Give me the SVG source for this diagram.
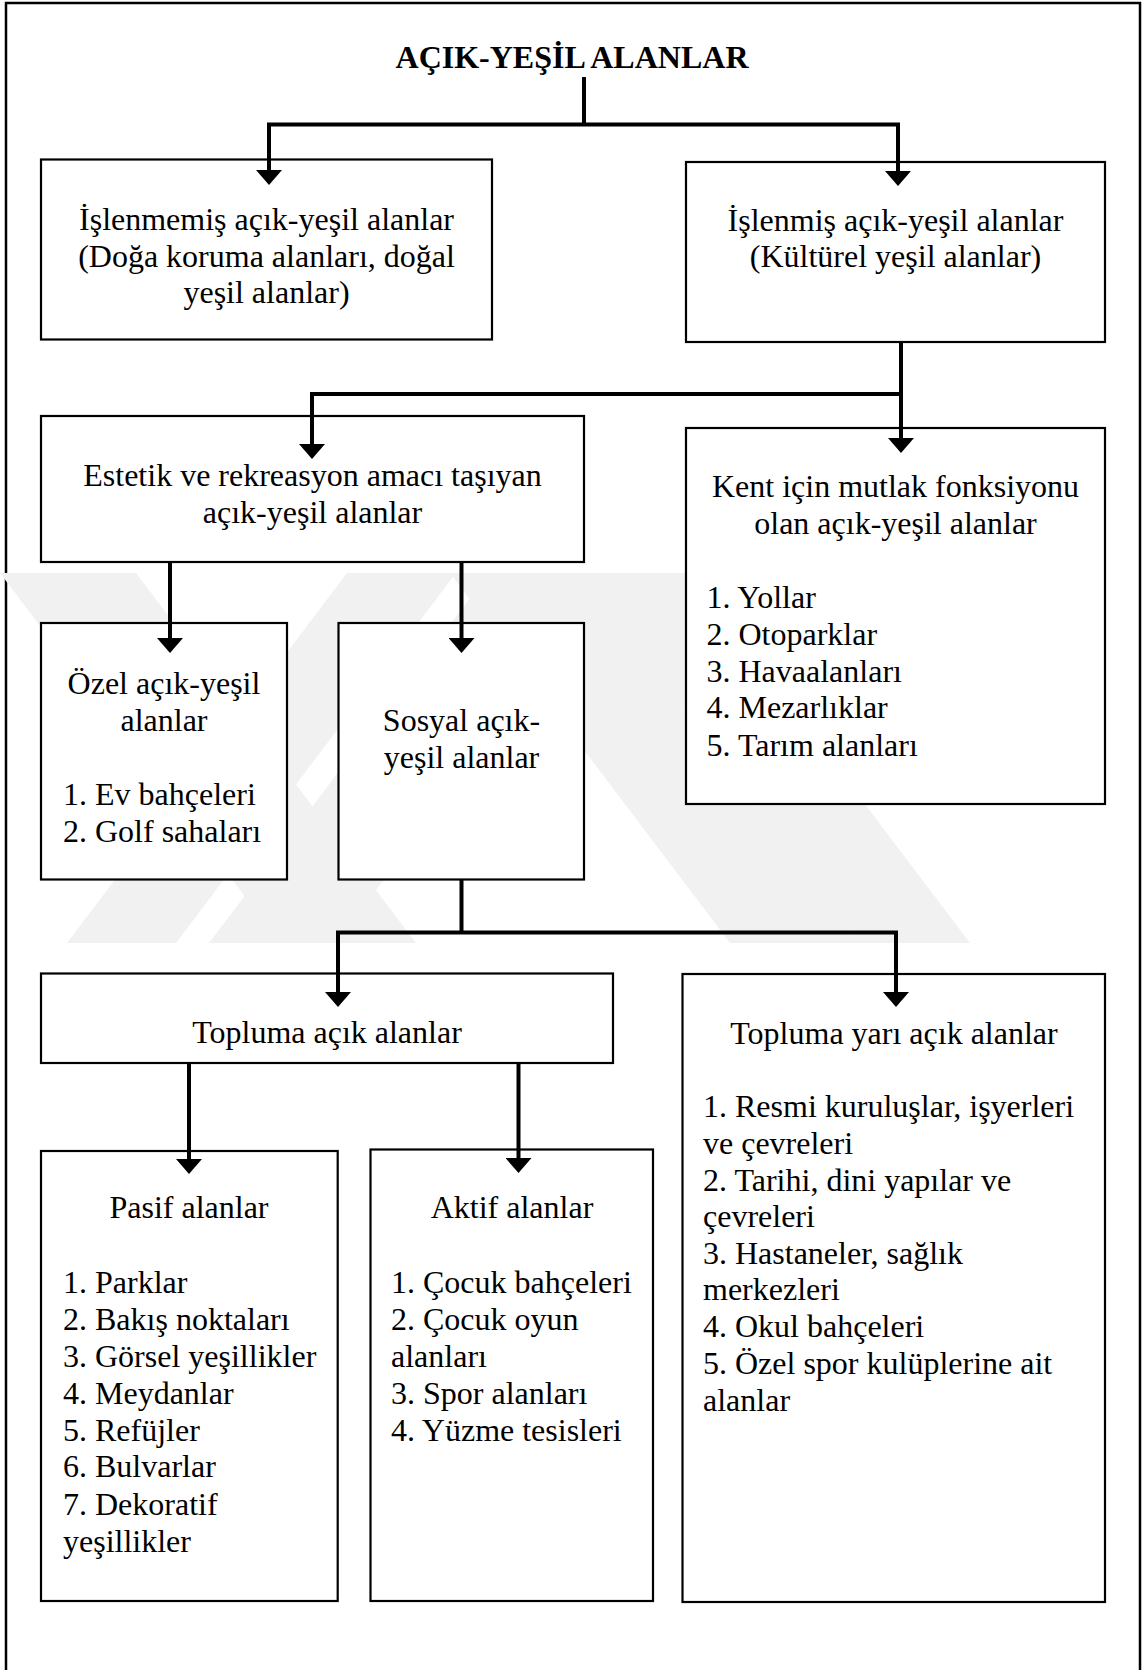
<svg xmlns="http://www.w3.org/2000/svg" width="1144" height="1670" viewBox="0 0 1144 1670">
<style>
.box{fill:#fff;stroke:#000;stroke-width:2.2}
.t{font-family:"Liberation Serif","Times New Roman",serif;font-size:32px;fill:#000}
.c{text-anchor:middle}
.title{font-weight:bold}
.conn{fill:none;stroke:#000;stroke-width:4;stroke-linejoin:miter}
.arr{marker-end:url(#ah)}
.wm{fill:#f1f1f1}
</style>
<defs>
<marker id="ah" markerUnits="userSpaceOnUse" markerWidth="15" markerHeight="26" refX="0" refY="13" orient="auto" viewBox="0 0 15 26">
<path d="M0,0 L15,13 L0,26 Z" fill="#000"/>
</marker>
</defs>
<rect width="1144" height="1670" fill="#fff"/>
<path d="M6,1675 V3 H1140 V1675" fill="none" stroke="#000" stroke-width="2.5"/>

<g id="watermark">
<polygon class="wm" points="0,573 136,573 416,943 280,943"/>
<polygon class="wm" points="347,573 456,573 176,943 67,943"/>
<polygon class="wm" points="489,573 616,573 336,943 209,943"/>
<polygon class="wm" points="450,573 581,573 861,943 730,943"/>
<polygon class="wm" points="581,573 690,573 970,943 861,943"/>
</g>

<g id="title">
<text class="t c title" x="572" y="68">AÇIK-YEŞİL ALANLAR</text>
</g>

<g id="n1">
<rect class="box" x="41" y="159.5" width="451" height="180"/>
<text class="t c" x="266.5" y="230">İşlenmemiş açık-yeşil alanlar</text>
<text class="t c" x="266.5" y="267">(Doğa koruma alanları, doğal</text>
<text class="t c" x="266.5" y="303">yeşil alanlar)</text>
</g>

<g id="n2">
<rect class="box" x="686" y="162" width="419" height="180"/>
<text class="t c" x="895.5" y="231">İşlenmiş açık-yeşil alanlar</text>
<text class="t c" x="895.5" y="267">(Kültürel yeşil alanlar)</text>
</g>

<g id="n3">
<rect class="box" x="41" y="416" width="543" height="146"/>
<text class="t c" x="312.5" y="486">Estetik ve rekreasyon amacı taşıyan</text>
<text class="t c" x="312.5" y="523">açık-yeşil alanlar</text>
</g>

<g id="n4">
<rect class="box" x="686" y="428" width="419" height="376"/>
<text class="t c" x="895.5" y="497">Kent için mutlak fonksiyonu</text>
<text class="t c" x="895.5" y="534">olan açık-yeşil alanlar</text>
<text class="t" x="706.5" y="608">1. Yollar</text>
<text class="t" x="706.5" y="645">2. Otoparklar</text>
<text class="t" x="706.5" y="682">3. Havaalanları</text>
<text class="t" x="706.5" y="718">4. Mezarlıklar</text>
<text class="t" x="706.5" y="756">5. Tarım alanları</text>
</g>

<g id="n5">
<rect class="box" x="41" y="623" width="246" height="256.5"/>
<text class="t c" x="164" y="694">Özel açık-yeşil</text>
<text class="t c" x="164" y="731">alanlar</text>
<text class="t" x="63" y="805">1. Ev bahçeleri</text>
<text class="t" x="63" y="842">2. Golf sahaları</text>
</g>

<g id="n6">
<rect class="box" x="338.5" y="623" width="245.5" height="256.5"/>
<text class="t c" x="461.5" y="731">Sosyal açık-</text>
<text class="t c" x="461.5" y="768">yeşil alanlar</text>
</g>

<g id="n7">
<rect class="box" x="41" y="973.5" width="572" height="89.5"/>
<text class="t c" x="327" y="1043">Topluma açık alanlar</text>
</g>

<g id="n8">
<rect class="box" x="682.5" y="974" width="422.5" height="628"/>
<text class="t c" x="894" y="1044">Topluma yarı açık alanlar</text>
<text class="t" x="703" y="1117">1. Resmi kuruluşlar, işyerleri</text>
<text class="t" x="703" y="1154">ve çevreleri</text>
<text class="t" x="703" y="1191">2. Tarihi, dini yapılar ve</text>
<text class="t" x="703" y="1227">çevreleri</text>
<text class="t" x="703" y="1264">3. Hastaneler, sağlık</text>
<text class="t" x="703" y="1300">merkezleri</text>
<text class="t" x="703" y="1337">4. Okul bahçeleri</text>
<text class="t" x="703" y="1374">5. Özel spor kulüplerine ait</text>
<text class="t" x="703" y="1411">alanlar</text>
</g>

<g id="n9">
<rect class="box" x="41" y="1151" width="296.7" height="450"/>
<text class="t c" x="189" y="1218">Pasif alanlar</text>
<text class="t" x="63" y="1293">1. Parklar</text>
<text class="t" x="63" y="1330">2. Bakış noktaları</text>
<text class="t" x="63" y="1367">3. Görsel yeşillikler</text>
<text class="t" x="63" y="1404">4. Meydanlar</text>
<text class="t" x="63" y="1441">5. Refüjler</text>
<text class="t" x="63" y="1477">6. Bulvarlar</text>
<text class="t" x="63" y="1515">7. Dekoratif</text>
<text class="t" x="63" y="1552">yeşillikler</text>
</g>

<g id="n10">
<rect class="box" x="370.5" y="1149.5" width="282.5" height="451.5"/>
<text class="t c" x="512" y="1218">Aktif alanlar</text>
<text class="t" x="391" y="1293">1. Çocuk bahçeleri</text>
<text class="t" x="391" y="1330">2. Çocuk oyun</text>
<text class="t" x="391" y="1367">alanları</text>
<text class="t" x="391" y="1404">3. Spor alanları</text>
<text class="t" x="391" y="1441">4. Yüzme tesisleri</text>
</g>

<g id="connectors">
<path class="conn" d="M584,77 V124.5"/>
<path class="conn" d="M267,124.5 H900"/>
<path class="conn arr" d="M269,124.5 V170"/>
<path class="conn arr" d="M898,124.5 V171"/>
<path class="conn" d="M901,342 V394"/>
<path class="conn" d="M310,394 H903"/>
<path class="conn arr" d="M312,394 V444"/>
<path class="conn arr" d="M901,394 V438"/>
<path class="conn arr" d="M170,562 V638"/>
<path class="conn arr" d="M461.5,562 V638"/>
<path class="conn" d="M461.5,880 V932.5"/>
<path class="conn" d="M336,932.5 H898"/>
<path class="conn arr" d="M338,932.5 V992"/>
<path class="conn arr" d="M896,932.5 V992"/>
<path class="conn arr" d="M189,1063 V1159"/>
<path class="conn arr" d="M518.5,1063 V1158"/>
</g>
</svg>
